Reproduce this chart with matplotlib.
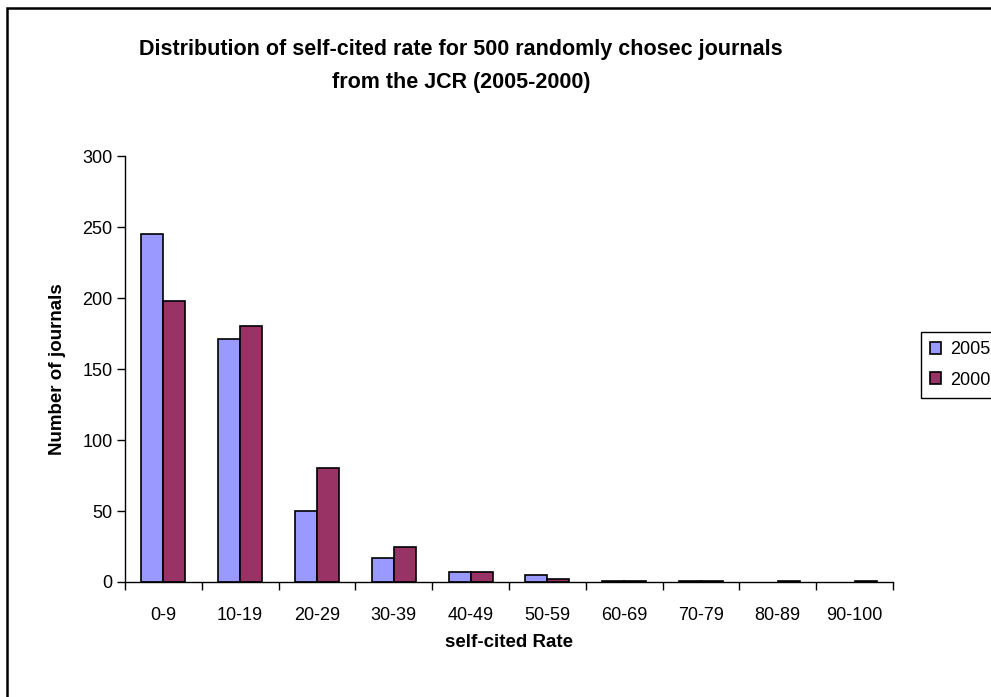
import numpy as np
import matplotlib
matplotlib.use("Agg")
import matplotlib.pyplot as plt
from matplotlib.patches import Rectangle

plt.rcParams['font.family'] = ['Liberation Sans', 'DejaVu Sans']

# self-citation rate bins and journal counts per year
categories = ["0-9", "10-19", "20-29", "30-39", "40-49",
              "50-59", "60-69", "70-79", "80-89", "90-100"]
counts_2005 = [245, 171, 50, 17, 7, 5, 1, 1, 0, 0]
counts_2000 = [198, 180, 80, 25, 7, 2, 1, 1, 1, 1]
years = ["2005", "2000"]

fig = plt.figure(figsize=(9.91, 6.97), dpi=100)
ax = fig.add_axes([0.1261, 0.165, 0.775, 0.611])

x = np.arange(len(categories))
w = 0.286
for off, vals, col, lab in [(-w / 2, counts_2005, "#9999FF", years[0]),
                            (w / 2, counts_2000, "#993366", years[1])]:
    # empty bins get no outline
    lws = [1.2 if v > 0 else 0 for v in vals]
    ax.bar(x + off, vals, w, color=col, edgecolor="black",
           linewidth=lws, label=lab)

ax.set_xlim(-0.5, len(categories) - 0.5)
ax.set_ylim(0, 300)
ax.set_yticks(range(0, 301, 50))
ax.tick_params(axis="y", labelsize=13, length=6, width=1, direction="out", pad=3)

# category labels centred, tick marks on the boundaries
ax.set_xticks(x)
ax.set_xticklabels(categories)
ax.tick_params(axis="x", which="major", length=0, labelsize=13, pad=18)
ax.set_xticks(np.arange(-0.5, len(categories)), minor=True)
ax.tick_params(axis="x", which="minor", length=6, width=1, direction="out")

for s in ["top", "right"]:
    ax.spines[s].set_visible(False)
for s in ["left", "bottom"]:
    ax.spines[s].set_linewidth(1)

ax.set_ylabel("Number of journals", fontsize=13.5, fontweight="bold", labelpad=12)
ax.set_xlabel("self-cited Rate", fontsize=13.5, fontweight="bold", labelpad=7)

fig.text(0.465, 0.905, "Distribution of self-cited rate for 500 randomly chosec journals\nfrom the JCR (2005-2000)",
         ha="center", va="center", fontsize=15.5, fontweight="bold", linespacing=1.75)

leg = fig.legend(loc="upper left", bbox_to_anchor=(0.929, 1 - 332 / 697),
                 fontsize=13, frameon=True, fancybox=False, edgecolor="black",
                 framealpha=1, handlelength=0.65, handleheight=0.65,
                 handletextpad=0.5, borderpad=0.5, labelspacing=0.75,
                 borderaxespad=0)
leg.get_frame().set_linewidth(1)

# chart area border
fig.patches.append(Rectangle((7 / 991, -0.05), 1.2, 1 - 8 / 697 + 0.05,
                             transform=fig.transFigure, fill=False,
                             edgecolor="black", linewidth=1.8))

fig.savefig("out.png", dpi=100)
